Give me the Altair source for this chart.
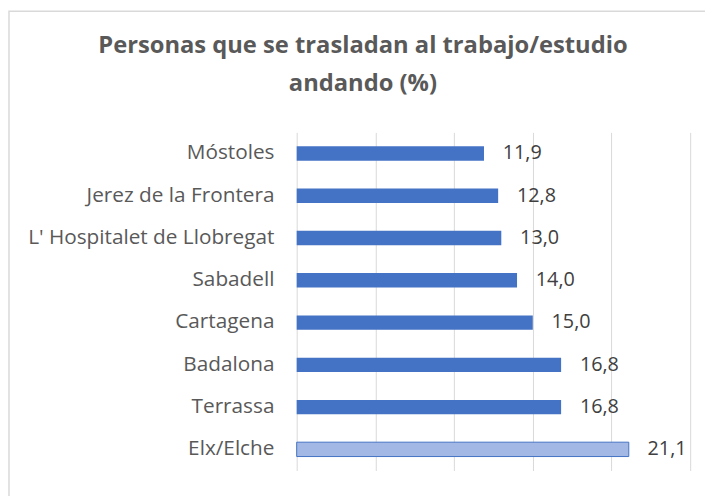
import altair as alt
import pandas as pd

cities = ["Móstoles", "Jerez de la Frontera", "L' Hospitalet de Llobregat", "Sabadell",
          "Cartagena", "Badalona", "Terrassa", "Elx/Elche"]
values = [11.9, 12.8, 13.0, 14.0, 15.0, 16.8, 16.8, 21.1]
highlight = [False, False, False, False, False, False, False, True]
x_ticks = [0, 5, 10, 15, 20, 25]

df = pd.DataFrame({"city": cities, "value": values, "hl": highlight})

FONT = "Open Sans"
TXT = "#595959"
PL, PT = 292, 123

base = alt.Chart(df)

bars = base.mark_bar(strokeWidth=1).encode(
    y=alt.Y("city:N", sort=cities,
            scale=alt.Scale(paddingInner=0.66, paddingOuter=0.33),
            axis=alt.Axis(title=None, ticks=False, domain=False, labelPadding=23,
                          labelFontSize=21, labelColor=TXT, labelFont=FONT, labelLimit=400)),
    x=alt.X("value:Q", scale=alt.Scale(domain=[0, 25], nice=False),
            axis=alt.Axis(title=None, labels=False, ticks=False, domain=False,
                          values=x_ticks, grid=True, gridColor="#d9d9d9", gridWidth=1)),
    color=alt.condition(alt.datum.hl, alt.value("#a3b8e4"), alt.value("#4472C4")),
    stroke=alt.condition(alt.datum.hl, alt.value("#4472C4"), alt.value(None)),
)

labels = base.transform_calculate(
    lab="replace(format(datum.value, '.1f'), '.', ',')"
).mark_text(align="left", baseline="middle", dx=19, fontSize=20, font=FONT, color="#404040").encode(
    y=alt.Y("city:N", sort=cities),
    x="value:Q",
    text="lab:N",
)

frame = alt.Chart(pd.DataFrame({"a": [0]})).mark_rect(
    filled=False, stroke="#d9d9d9", strokeWidth=1.5
).encode(
    x=alt.value(-PL + 1), x2=alt.value(450),
    y=alt.value(-PT + 0.5), y2=alt.value(420),
)

chart = alt.layer(frame, bars, labels).properties(
    width=398, height=342,
    autosize=alt.AutoSizeParams(type="none"),
    padding={"left": PL, "top": PT, "right": 15, "bottom": 23},
    title=alt.TitleParams(
        ["Personas que se trasladan al trabajo/estudio", "andando (%)"],
        fontSize=24, font=FONT, fontWeight="bold", color=TXT,
        anchor="middle", frame="group", baseline="bottom",
        dx=-132, offset=-110, lineHeight=38,
    ),
).configure_view(stroke=None)

chart.save("out.html", embed_options={"renderer": "svg", "actions": False})
